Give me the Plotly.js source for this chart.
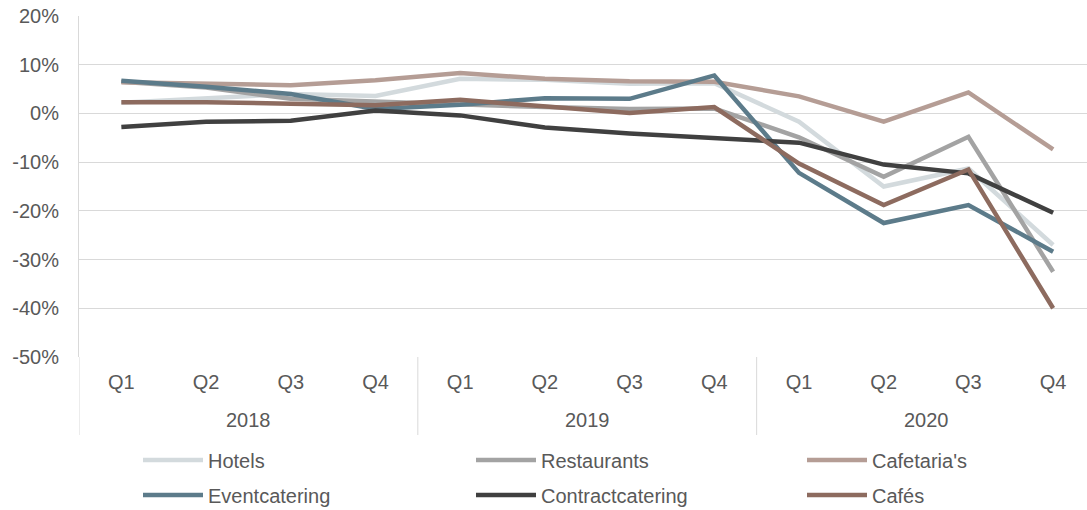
<!DOCTYPE html>
<html>
<head>
<meta charset="utf-8">
<script src="https://cdn.plot.ly/plotly-3.0.1.min.js"></script>
<style>html,body{margin:0;padding:0;background:#fff;}#chart{width:1087px;height:510px;}</style>
</head>
<body>
<div id="chart"></div>
<script>
const yearGroups = ["2018", "2019", "2020"];
const quartersPerYear = 4;
const quarters = ["Q1","Q2","Q3","Q4","Q1","Q2","Q3","Q4","Q1","Q2","Q3","Q4"];

const hotels        = [2.2, 3.2, 4.0, 3.6, 7.1, 6.9, 6.1, 6.2, -1.7, -15.0, -11.3, -27.0];
const restaurants   = [6.5, 5.3, 3.0, 2.4, 2.0, 1.3, 0.9, 1.0, -4.9, -13.0, -4.8, -32.5];
const cafetarias    = [6.4, 6.0, 5.8, 6.8, 8.3, 7.1, 6.6, 6.5, 3.5, -1.7, 4.3, -7.4];
const eventcatering = [6.7, 5.5, 4.0, 0.9, 1.8, 3.1, 3.0, 7.8, -12.2, -22.5, -18.8, -28.4];
const contract      = [-2.8, -1.7, -1.5, 0.6, -0.4, -2.9, -4.1, -5.1, -6.0, -10.5, -12.3, -20.4];
const cafes         = [2.3, 2.3, 2.0, 1.7, 2.8, 1.4, 0.1, 1.3, -10.3, -18.8, -11.5, -40.0];

const yTickVals = [-50, -40, -30, -20, -10, 0, 10, 20];
const yTickText = ["-50%", "-40%", "-30%", "-20%", "-10%", "0%", "10%", "20%"];

const names  = ["Hotels","Restaurants","Cafetaria's","Eventcatering","Contractcatering","Cafés"];
const series = [hotels, restaurants, cafetarias, eventcatering, contract, cafes];
const colors = ["#d3dadd","#a3a3a3","#b59d95","#5c7b8a","#404040","#8d6b5f"];
const legendIds = ["legend","legend2","legend3","legend4","legend5","legend6"];

const FONT = "Liberation Sans, Arial, sans-serif";
const TXT = "#595959";
const GRID = "#d9d9d9";

const xIdx = quarters.map((q, i) => i);

const traces = series.map((vals, i) => ({
  type: "scatter", mode: "lines",
  x: xIdx, y: vals, name: names[i],
  line: {color: colors[i], width: 4.5, shape: "linear"},
  legend: legendIds[i],
  hoverinfo: "skip"
}));

const plotH = 510 - 16 - 153;
const divBottom = -(435 - 357) / plotH;
const yearY = -(420 - 357) / plotH;

const shapes = [];
for (let g = 0; g < yearGroups.length; g++) {
  shapes.push({type: "line", xref: "x", yref: "paper",
    x0: g * quartersPerYear - 0.5, x1: g * quartersPerYear - 0.5,
    y0: 0, y1: divBottom, line: {color: GRID, width: 1}});
}
const annotations = yearGroups.map((yr, g) => ({
  text: yr, xref: "x", yref: "paper",
  x: g * quartersPerYear + (quartersPerYear - 1) / 2, y: yearY,
  xanchor: "center", yanchor: "middle", showarrow: false,
  font: {family: FONT, size: 20, color: TXT}
}));

const colX = [138, 471, 802];
const rowY = [460, 495];

const layout = {
  width: 1087, height: 510,
  margin: {l: 79, r: 0, t: 16, b: 153},
  paper_bgcolor: "#fff", plot_bgcolor: "#fff",
  font: {family: FONT, size: 20, color: TXT},
  showlegend: true,
  xaxis: {
    range: [-0.5, 11.4],
    tickmode: "array", tickvals: xIdx, ticktext: quarters,
    showgrid: false, zeroline: false, showline: false,
    ticks: "", tickangle: 0, ticklabelstandoff: 11,
    tickfont: {family: FONT, size: 20, color: TXT}
  },
  yaxis: {
    range: [-50, 20],
    tickmode: "array", tickvals: yTickVals, ticktext: yTickText,
    showgrid: true, gridcolor: GRID, gridwidth: 1,
    zeroline: true, zerolinecolor: GRID, zerolinewidth: 1,
    showline: true, linecolor: GRID, linewidth: 1,
    ticks: "", ticklabelstandoff: 15,
    tickfont: {family: FONT, size: 20, color: TXT}
  },
  shapes: shapes,
  annotations: annotations
};

legendIds.forEach((id, i) => {
  layout[id] = {
    orientation: "h", xref: "container", yref: "container",
    xanchor: "left", yanchor: "middle",
    x: colX[i % 3] / 1087, y: 1 - rowY[Math.floor(i / 3)] / 510,
    itemwidth: 60,
    font: {family: FONT, size: 20, color: TXT},
    bgcolor: "rgba(0,0,0,0)"
  };
});

Plotly.newPlot("chart", traces, layout, {displayModeBar: false, staticPlot: true});
</script>
</body>
</html>
